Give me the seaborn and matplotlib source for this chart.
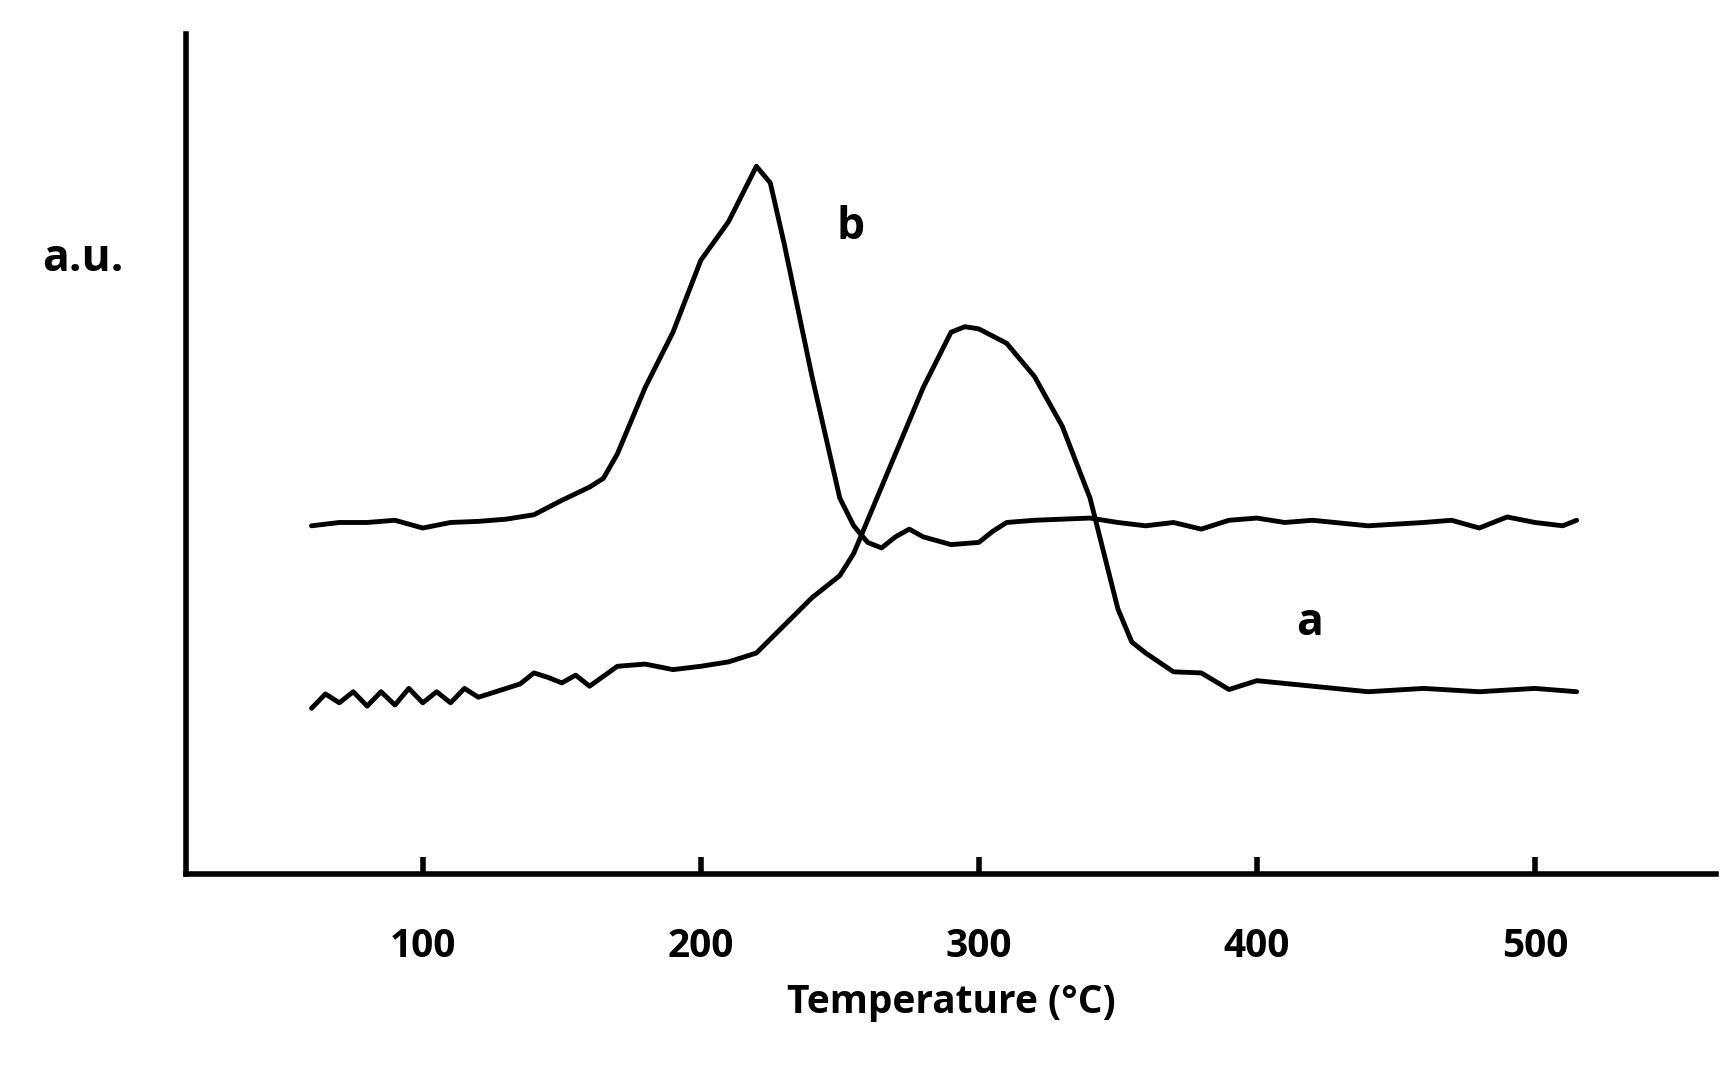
import matplotlib
matplotlib.use("Agg")
import matplotlib.pyplot as plt
import seaborn as sns
import pandas as pd

sns.set_theme(style="white")
plt.rcParams['font.family'] = ['Open Sans', 'DejaVu Sans']
plt.rcParams['text.color'] = 'black'
plt.rcParams['xtick.color'] = 'black'
plt.rcParams['axes.labelcolor'] = 'black'

temp_b = [60,70,80,90,100,110,120,130,140,150,160,165,170,180,190,200,210,215,220,225,230,240,250,255,260,265,270,275,280,290,300,305,310,320,340,350,360,370,380,390,400,410,420,440,460,470,480,490,500,510,515]
sig_b = [315,318,318,320,313,318,319,321,325,338,350,358,380,440,490,555,590,615,640,625,570,450,340,315,300,295,305,312,305,298,300,310,318,320,322,318,315,318,312,320,322,318,320,315,318,320,313,323,318,315,320]
temp_a = [60,65,70,75,80,85,90,95,100,105,110,115,120,130,135,140,145,150,155,160,170,180,190,200,210,220,230,240,250,255,260,270,280,290,295,300,310,320,330,340,345,350,355,360,370,380,390,400,420,440,460,480,500,515]
sig_a = [150,163,155,165,152,165,153,168,155,165,155,168,160,168,172,182,178,173,180,170,188,190,185,188,192,200,225,250,270,290,320,380,440,490,495,493,480,450,405,340,290,240,210,200,183,182,167,175,170,165,168,165,168,165]
xticks = [100,200,300,400,500]

df = pd.concat([pd.DataFrame({"T": temp_a, "S": sig_a, "c": "a"}),
                pd.DataFrame({"T": temp_b, "S": sig_b, "c": "b"})])

fig = plt.figure(figsize=(17.26, 10.82), dpi=100)
ax = fig.add_axes([0.108, 0.192, 0.886, 0.777])
sns.lineplot(data=df, x="T", y="S", units="c", estimator=None, color="black",
             lw=3.5, ax=ax, sort=False)
ax.set_xlim(15, 565)
ax.set_ylim(0, 760)
for s in ["top", "right"]:
    ax.spines[s].set_visible(False)
for s in ["left", "bottom"]:
    ax.spines[s].set_linewidth(4)
    ax.spines[s].set_color("black")
ax.set_yticks([])
ax.set_xticks(xticks)
ax.set_xticklabels([str(t) for t in xticks], fontsize=28, fontweight="bold")
ax.tick_params(axis="x", bottom=True, direction="in", length=12, width=4, pad=38, color="black")
ax.set_xlabel("Temperature (°C)", fontsize=28, fontweight="bold", labelpad=12)
ax.set_ylabel("")
ax.text(254, 585, "b", fontsize=32, fontweight="bold", ha="center", va="center")
ax.text(419, 227, "a", fontsize=32, fontweight="bold", ha="center", va="center")
fig.text(0.048, 0.76, "a.u.", fontsize=32, fontweight="bold", ha="center", va="center")
fig.savefig("out.png", dpi=100)
